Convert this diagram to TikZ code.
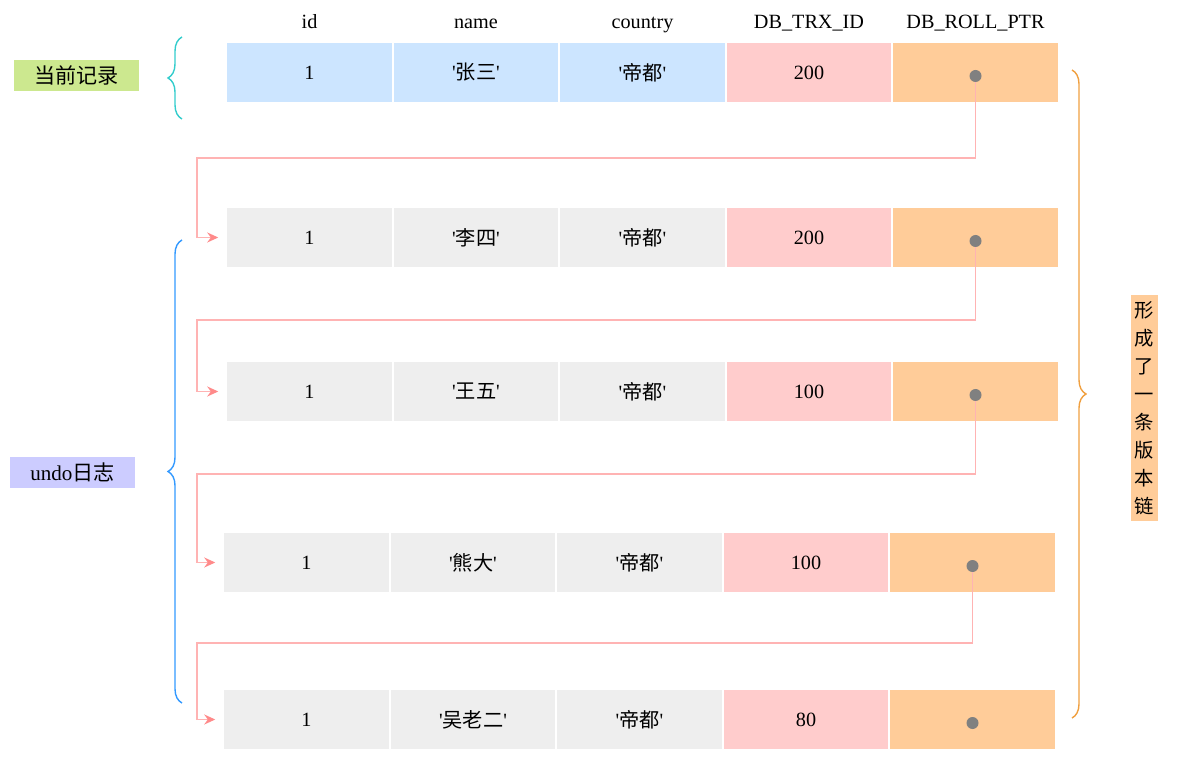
\documentclass[tikz,border=0pt]{standalone}
\usepackage{fontspec}
\setmainfont{Liberation Serif}
\newfontfamily\cjk{Noto Sans CJK SC}
\usetikzlibrary{arrows.meta}
\usetikzlibrary{positioning}
\usetikzlibrary{decorations.pathreplacing}
\definecolor{cellblue}{HTML}{CCE5FF}
\definecolor{cellgray}{HTML}{EEEEEE}
\definecolor{cellpink}{HTML}{FFCCCC}
\definecolor{cellorange}{HTML}{FFCC99}
\definecolor{dotgray}{HTML}{808080}
\definecolor{linkpink}{HTML}{FFB3B3}
\definecolor{arrowpink}{HTML}{FF8A8A}
\definecolor{bracecyan}{HTML}{33CCCC}
\definecolor{braceblue}{HTML}{3399FF}
\definecolor{braceorange}{HTML}{F0A040}
\definecolor{taggreen}{HTML}{CCE88F}
\definecolor{taglav}{HTML}{CCCCFF}
\newcommand{\cname}[1]{\textquotesingle{\cjk #1}\textquotesingle}

\begin{document}
\begin{tikzpicture}[>={Stealth[length=0.22cm,width=0.2cm,color=arrowpink]}, node distance=0.04cm,
		cell/.style={minimum width=3.29cm, minimum height=1.18cm, inner sep=0pt, outer sep=0pt, font=\fontsize{11.5}{14}\selectfont},
		cur/.style={cell, fill=cellblue},
		old/.style={cell, fill=cellgray},
		trx/.style={cell, fill=cellpink},
		ptr/.style={cell, fill=cellorange},
		dot/.style={circle, fill=dotgray, inner sep=0pt, minimum size=0.24cm},
		link/.style={draw=linkpink, line width=0.9pt, ->, shorten >=0.18cm},
		head/.style={inner sep=0pt, text height=1.6ex, text depth=0.4ex, font=\fontsize{11.5}{14}\selectfont},
		tag/.style={minimum width=2.5cm, minimum height=0.62cm, inner sep=0pt, font=\fontsize{12}{14}\selectfont},
		group/.style={decorate, decoration={brace, amplitude=0.28cm}, line width=0.8pt}]
	\useasboundingbox (0,0) rectangle (23.96,-15.34);

	% current record
	\node[cur] (r0c1) at (6.19,-1.45) {1};
	\node[cur] (r0c2) [right=of r0c1] {\cname{张三}};
	\node[cur] (r0c3) [right=of r0c2] {\cname{帝都}};
	\node[trx] (r0c4) [right=of r0c3] {200};
	\node[ptr] (r0c5) [right=of r0c4] {};

	% column titles
	\node[head] (hid) [above=0.22cm of r0c1] {id};
	\node[head] (hname) [above=0.22cm of r0c2] {name};
	\node[head] (hcountry) [above=0.22cm of r0c3] {country};
	\node[head] (htrx) [above=0.22cm of r0c4] {DB\_TRX\_ID};
	\node[head] (hptr) [above=0.22cm of r0c5] {DB\_ROLL\_PTR};

	% undo log
	\node[old] (r1c1) at (6.19,-4.75) {1};
	\node[old] (r1c2) [right=of r1c1] {\cname{李四}};
	\node[old] (r1c3) [right=of r1c2] {\cname{帝都}};
	\node[trx] (r1c4) [right=of r1c3] {200};
	\node[ptr] (r1c5) [right=of r1c4] {};

	\node[old] (r2c1) at (6.19,-7.83) {1};
	\node[old] (r2c2) [right=of r2c1] {\cname{王五}};
	\node[old] (r2c3) [right=of r2c2] {\cname{帝都}};
	\node[trx] (r2c4) [right=of r2c3] {100};
	\node[ptr] (r2c5) [right=of r2c4] {};

	\node[old] (r3c1) at (6.13,-11.25) {1};
	\node[old] (r3c2) [right=of r3c1] {\cname{熊大}};
	\node[old] (r3c3) [right=of r3c2] {\cname{帝都}};
	\node[trx] (r3c4) [right=of r3c3] {100};
	\node[ptr] (r3c5) [right=of r3c4] {};

	\node[old] (r4c1) at (6.13,-14.39) {1};
	\node[old] (r4c2) [right=of r4c1] {\cname{吴老二}};
	\node[old] (r4c3) [right=of r4c2] {\cname{帝都}};
	\node[trx] (r4c4) [right=of r4c3] {80};
	\node[ptr] (r4c5) [right=of r4c4] {};

	% roll pointers
	\node[dot] (p0) at ([yshift=-0.07cm]r0c5.center) {};
	\node[dot] (p1) at ([yshift=-0.07cm]r1c5.center) {};
	\node[dot] (p2) at ([yshift=-0.07cm]r2c5.center) {};
	\node[dot] (p3) at ([yshift=-0.07cm]r3c5.center) {};
	\node[dot] (p4) at ([yshift=-0.07cm]r4c5.center) {};

	\draw[link] (p0) -- ++(0,-1.64) -| ([xshift=-0.6cm]r1c1.west) -- (r1c1.west);
	\draw[link] (p1) -- ++(0,-1.58) -| ([xshift=-0.6cm]r2c1.west) -- (r2c1.west);
	\draw[link] (p2) -- ++(0,-1.58) -| ([xshift=-0.54cm]r3c1.west) -- (r3c1.west);
	\draw[link] (p3) -- ++(0,-1.54) -| ([xshift=-0.54cm]r4c1.west) -- (r4c1.west);

	% labels and braces
	\node[tag, fill=taggreen] (curtag) at (1.53,-1.51) {\cjk 当前记录};
	\node[tag, fill=taglav] (undotag) at (1.45,-9.45) {undo{\cjk 日志}};
	\draw[group, bracecyan] (3.64,-2.38) -- (3.64,-0.74);
	\draw[group, braceblue] (3.64,-14.06) -- (3.64,-4.8);
	\draw[group, braceorange] (21.44,-1.4) -- (21.44,-14.36);
	\node[fill=cellorange, minimum width=0.54cm, minimum height=4.52cm, inner sep=0pt, align=center,
		font=\fontsize{11}{15.9}\selectfont\cjk] (chain) at (22.89,-8.16) {形\\成\\了\\一\\条\\版\\本\\链};
\end{tikzpicture}
\end{document}
